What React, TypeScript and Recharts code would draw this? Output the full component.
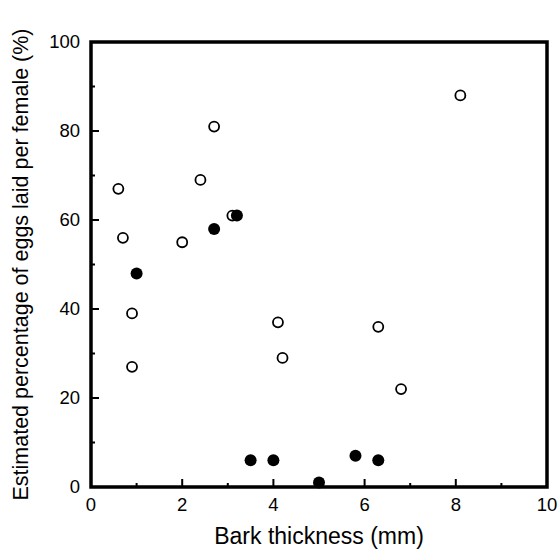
import { ReferenceArea, Scatter, ScatterChart, XAxis, YAxis } from "recharts";

// Open circles and filled circles (x: mm, y: %).
const openX = [0.6, 0.7, 0.9, 0.9, 2.0, 2.4, 2.7, 3.1, 4.1, 4.2, 6.3, 6.8, 8.1];
const openY = [67, 56, 39, 27, 55, 69, 81, 61, 37, 29, 36, 22, 88];
const filledX = [1.0, 2.7, 3.2, 3.5, 4.0, 5.0, 5.8, 6.3];
const filledY = [48, 58, 61, 6, 6, 1, 7, 6];

const xTicks = [0, 1, 2, 3, 4, 5, 6, 7, 8, 9, 10];
const yTicks = [0, 10, 20, 30, 40, 50, 60, 70, 80, 90, 100];

const FONT = '"Liberation Sans", Arial, Helvetica, sans-serif';

const openData = openX.map((x, i) => ({ x, y: openY[i] }));
const filledData = filledX.map((x, i) => ({ x, y: filledY[i] }));

// inward ticks: long at labelled values, short in between
function XTick({ x, y, payload }: any) {
  const major = payload.value % 2 === 0;
  return (
    <g>
      <line x1={x} x2={x} y1={y} y2={y - (major ? 8 : 4)} stroke="#000" strokeWidth={2} />
      {major && (
        <text x={x} y={y + 24} textAnchor="middle" fontSize={18.5} fill="#000" fontFamily={FONT}>
          {payload.value}
        </text>
      )}
    </g>
  );
}

function YTick({ x, y, payload }: any) {
  const major = payload.value % 20 === 0;
  return (
    <g>
      <line x1={x} x2={x + (major ? 8 : 4)} y1={y} y2={y} stroke="#000" strokeWidth={2} />
      {major && (
        <text x={x - 11} y={y + 6} textAnchor="end" fontSize={18.5} fill="#000" fontFamily={FONT}>
          {payload.value}
        </text>
      )}
    </g>
  );
}

const OpenDot = (p: any) => (
  <circle cx={p.cx} cy={p.cy} r={5} fill="#fff" stroke="#000" strokeWidth={1.8} />
);
const FilledDot = (p: any) => <circle cx={p.cx} cy={p.cy} r={6} fill="#000" />;

export default function App() {
  return (
    <div style={{ position: "absolute", left: 0, top: 0, background: "#fff" }}>
      <ScatterChart
        width={557}
        height={550}
        margin={{ top: 42, right: 10, bottom: 0, left: 0 }}
        style={{ fontFamily: FONT }}
      >
        <XAxis
          type="number"
          dataKey="x"
          domain={[0, 10]}
          ticks={xTicks}
          interval={0}
          axisLine={false}
          tickLine={false}
          tickSize={0}
          tickMargin={0}
          height={63}
          tick={<XTick />}
          label={{
            value: "Bark thickness (mm)",
            position: "insideBottom",
            offset: 6,
            fontSize: 23,
            fill: "#000",
          }}
        />
        <YAxis
          type="number"
          dataKey="y"
          domain={[0, 100]}
          ticks={yTicks}
          interval={0}
          axisLine={false}
          tickLine={false}
          tickSize={0}
          tickMargin={0}
          width={91}
          tick={<YTick />}
          label={{
            value: "Estimated percentage of eggs laid per female (%)",
            position: "insideLeft",
            angle: -90,
            offset: 20,
            fontSize: 21.5,
            fill: "#000",
            style: { textAnchor: "middle" },
          }}
        />
        <ReferenceArea x1={0} x2={10} y1={0} y2={100} fill="none" stroke="#000" strokeWidth={3.5} />
        <Scatter data={openData} shape={OpenDot} isAnimationActive={false} />
        <Scatter data={filledData} shape={FilledDot} isAnimationActive={false} />
      </ScatterChart>
    </div>
  );
}
